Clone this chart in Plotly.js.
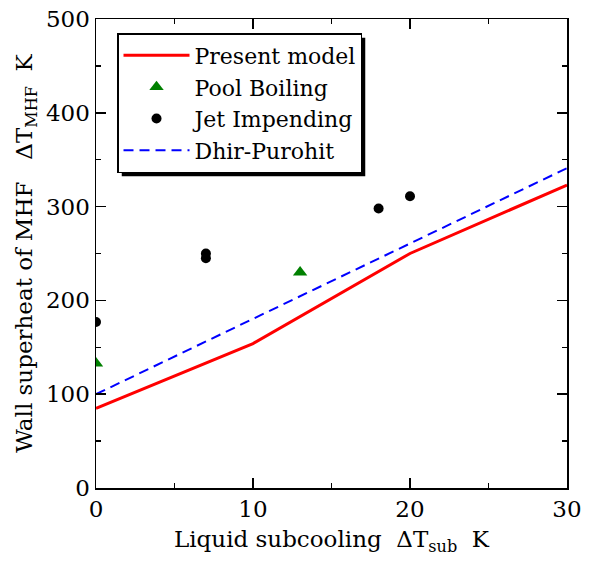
<!DOCTYPE html>
<html><head><meta charset="utf-8">
<script src="https://cdn.plot.ly/plotly-3.0.1.min.js"></script>
<style>html,body{margin:0;padding:0;background:#fff;}#chart{width:594px;height:561px;}</style>
</head><body><div id="chart"></div>
<script>
const modelX = [0, 10, 20, 30];
const modelY = [85, 154, 250, 323];
const poolX = [0, 13];
const poolY = [133, 230];
const jetX = [0, 7, 7, 18, 20];
const jetY = [177, 245, 250, 298, 311];
const dhirX = [0, 30];
const dhirY = [100, 341];

const F = 'DejaVu Serif';
const traces = [
  {x: modelX, y: modelY, mode: 'lines', name: 'Present model', line: {color: '#ff0000', width: 3}},
  {x: poolX, y: poolY, mode: 'markers', name: 'Pool Boiling', marker: {symbol: 'triangle-up', size: 12.5, color: '#008000'}},
  {x: jetX, y: jetY, mode: 'markers', name: 'Jet Impending', marker: {symbol: 'circle', size: 10, color: '#000000'}},
  {x: dhirX, y: dhirY, mode: 'lines', name: 'Dhir-Purohit', line: {color: '#0000ff', width: 2, dash: '10px,6px'}}
];
const axisCommon = {
  showline: true, linecolor: '#000', linewidth: 1.5, mirror: 'ticks',
  ticks: 'inside', ticklen: 10, tickwidth: 1.5, tickcolor: '#000',
  showgrid: false, zeroline: false,
  tickfont: {family: F, size: 23, color: '#000'}
};
const layout = {
  width: 594, height: 561,
  margin: {l: 96, r: 27, t: 19, b: 73},
  paper_bgcolor: '#fff', plot_bgcolor: '#fff',
  font: {family: F, color: '#000'},
  xaxis: Object.assign({}, axisCommon, {
    range: [0, 30], dtick: 10, tick0: 0,
    minor: {dtick: 5, ticks: 'inside', ticklen: 5, tickwidth: 1.5, tickcolor: '#000', showgrid: false},
    title: {text: 'Liquid subcooling\u00A0\u00A0ΔT<sub>sub</sub>\u00A0\u00A0K', font: {family: F, size: 23, color: '#000'}, standoff: 10}
  }),
  yaxis: Object.assign({}, axisCommon, {
    range: [0, 500], dtick: 100, tick0: 0,
    minor: {dtick: 50, ticks: 'inside', ticklen: 5, tickwidth: 1.5, tickcolor: '#000', showgrid: false},
    title: {text: 'Wall superheat of MHF\u00A0\u00A0\u00A0ΔT<sub>MHF</sub>\u00A0\u00A0K', font: {family: F, size: 23, color: '#000'}, standoff: 7}
  }),
  legend: {
    x: 0.0446, y: 0.97, xanchor: 'left', yanchor: 'top',
    bgcolor: '#fff', bordercolor: '#000', borderwidth: 1.5,
    font: {family: F, size: 22, color: '#000'},
    itemwidth: 66, tracegroupgap: 0
  },
  showlegend: true
};
const gd = document.getElementById('chart');
Plotly.newPlot(gd, traces, layout, {displayModeBar: false, staticPlot: true}).then(function () {
  const bg = gd.querySelector('.legend .bg');
  if (!bg) return;
  const r = bg.getBoundingClientRect();
  const c = gd.getBoundingClientRect();
  const s = gd._fullLayout._size;
  const off = 4;
  const px = v => (v - c.left - s.l) / s.w;
  const py = v => 1 - (v - c.top - s.t) / s.h;
  return Plotly.relayout(gd, {shapes: [{
    type: 'rect', xref: 'paper', yref: 'paper',
    x0: px(r.left + off), x1: px(r.right + off),
    y0: py(r.bottom + off), y1: py(r.top + off),
    fillcolor: '#000', line: {width: 0}, layer: 'above'
  }]});
});
</script></body></html>
